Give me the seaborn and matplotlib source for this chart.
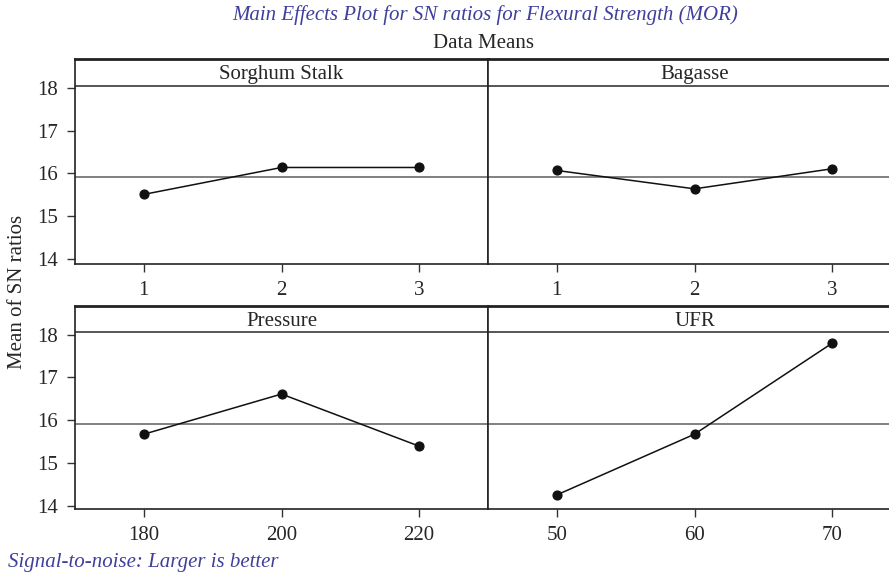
import numpy as np
import matplotlib
matplotlib.use("Agg")
import matplotlib.pyplot as plt
import seaborn as sns
import pandas as pd

sns.set_style("ticks")
plt.rcParams["font.family"] = ["Liberation Serif", "DejaVu Serif"]

title_color = "#3f3f9c"
fs = 15

factors = ["Sorghum Stalk", "Bagasse", "Pressure", "UFR"]
sorghum_levels = ["1", "2", "3"]
sorghum_sn = [15.51, 16.14, 16.14]
bagasse_levels = ["1", "2", "3"]
bagasse_sn = [16.07, 15.64, 16.11]
pressure_levels = ["180", "200", "220"]
pressure_sn = [15.67, 16.61, 15.39]
ufr_levels = ["50", "60", "70"]
ufr_sn = [14.25, 15.67, 17.80]

levels = [sorghum_levels, bagasse_levels, pressure_levels, ufr_levels]
values = [sorghum_sn, bagasse_sn, pressure_sn, ufr_sn]

rows = []
for f, lv, vals in zip(factors, levels, values):
    for l, v in zip(lv, vals):
        rows.append({"Factor": f, "Level": l, "SN": v})
data = pd.DataFrame(rows)
grand_mean = data["SN"].mean()

W, H = 889, 575
fig = plt.figure(figsize=(W / 100, H / 100), dpi=100)

# panel boxes in pixels: (left, top, width, height)
pw = 413
boxes = [(75, 59, pw, 205), (488, 59, pw, 205),
         (75, 306, pw, 203), (488, 306, pw, 203)]
ylims = [(13.88, 18.68), (13.88, 18.68), (13.92, 18.67), (13.92, 18.67)]
strip_y = [18.05, 18.05, 18.06, 18.06]

for i, f in enumerate(factors):
    l, t, w, h = boxes[i]
    ax = fig.add_axes([l / W, 1 - (t + h) / H, w / W, h / H])
    sub = data[data["Factor"] == f]
    ax.axhline(grand_mean, color="#6b6b6b", lw=1.2, zorder=1)
    sns.pointplot(data=sub, x="Level", y="SN", order=levels[i], ax=ax,
                  color="#111111", marker="o", markersize=6.5, linewidth=1.1,
                  errorbar=None)
    ax.set_xlim(-0.5, 2.5)
    ax.set_ylim(*ylims[i])
    ax.axhline(strip_y[i], color="#555555", lw=1.4)
    ax.text(0.5, (strip_y[i] + ylims[i][1]) / 2, f, ha="center",
            va="center_baseline", fontsize=fs,
            transform=ax.get_yaxis_transform())
    ax.set_xlabel("")
    ax.set_ylabel("")
    for s in ["left", "bottom", "right"]:
        ax.spines[s].set_linewidth(1.2)
        ax.spines[s].set_color("#222222")
    ax.spines["top"].set_linewidth(2.0)
    ax.spines["top"].set_color("#222222")
    ax.tick_params(axis="x", labelsize=fs, length=6, width=1, pad=6,
                   color="#333333")
    if i % 2 == 0:
        ax.set_yticks([14, 15, 16, 17, 18])
        ax.tick_params(axis="y", labelsize=fs, length=6, width=1, pad=6,
                       color="#333333")
    else:
        ax.set_yticks([])

fig.text(485 / W, 1 - 15 / H, "Main Effects Plot for SN ratios for Flexural Strength (MOR)",
         ha="center", va="center", fontsize=fs, style="italic", color=title_color)
fig.text(483 / W, 1 - 44 / H, "Data Means", ha="center", va="center", fontsize=fs)
fig.text(18 / W, 1 - 292 / H, "Mean of SN ratios", ha="center", va="center",
         rotation=90, fontsize=fs)
fig.text(8 / W, 1 - 562 / H, "Signal-to-noise: Larger is better", ha="left",
         va="center", fontsize=fs, style="italic", color=title_color)

fig.savefig("out.png", dpi=100)
